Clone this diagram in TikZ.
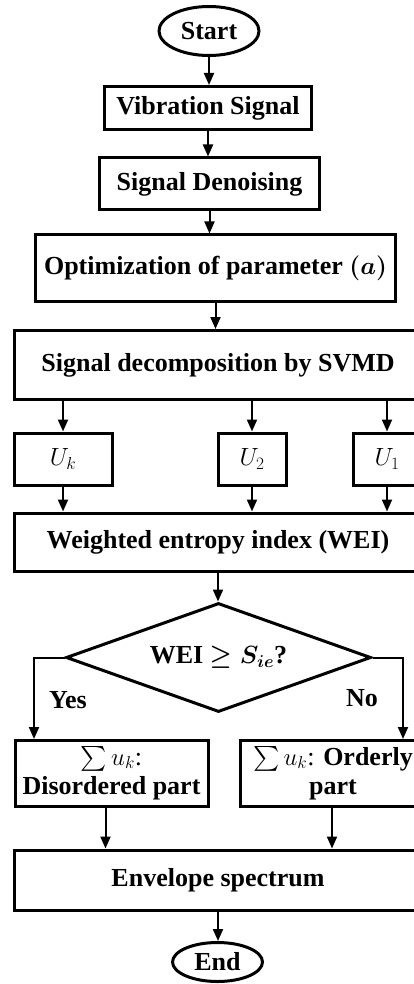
\documentclass[tikz,border=0pt]{standalone}
\usepackage{fontspec}
\setmainfont{Liberation Serif}
\usepackage{amsmath}
\usetikzlibrary{shapes}
\usetikzlibrary{arrows.meta}

\begin{document}
\begin{tikzpicture}[x=1pt, y=-1pt, every node/.style={font=\fontsize{26}{29}\selectfont\bfseries, inner sep=0pt}, b/.style={rectangle, draw, line width=3pt, minimum width=#1pt}, t/.style={ellipse, draw, line width=3pt, minimum width=#1pt}, arr/.style={-{Triangle[width=10pt,length=12pt]}, line width=2pt}]
            \path[use as bounding box] (0, 0) rectangle (414, 984);
            \clip (0, 0) rectangle (414, 984);

            \node[t={100}, minimum height=49pt] (start) at (209, 31) {Start};
            \node[b={207}, minimum height=43pt] (vib) at (208, 108) {Vibration Signal};
            \node[b={220}, minimum height=52pt] (den) at (209.5, 184) {Signal Denoising};
            \node[b={360}, minimum height=66pt] (opt) at (215.5, 268) {Optimization of parameter $\boldsymbol{(a)}$};
            \node[b={408}, minimum height=69pt] (svmd) at (218, 365) {Signal decomposition by SVMD};
            \node[b={98}, minimum height=52pt] (uk) at (63, 459) {$U_k$};
            \node[b={68}, minimum height=52pt] (u2) at (252, 459) {$U_2$};
            \node[b={68}, minimum height=52pt] (u1) at (387, 459) {$U_1$};
            \node[b={408}, minimum height=58pt] (wei) at (218, 542) {Weighted entropy index (WEI)};
            \node[diamond, draw, line width=3pt, aspect=2.75, minimum width=305pt, minimum height=109pt] (dec) at (218.5, 657.5) {WEI $\boldsymbol{\geq S_{ie}}$?};
            \node (yes) at (68, 700) {Yes};
            \node (no) at (362, 698) {No};
            \node[b={193}, minimum height=66pt, align=center] (dis) at (111.5, 773) {$\sum u_k$\textnormal{:}\\Disordered part};
            \node[b={186}, minimum height=66pt, align=center] (ord) at (333, 773) {$\sum u_k$\textnormal{:} Orderly\\part};
            \node[b={408}, minimum height=60pt] (env) at (218, 880) {Envelope spectrum};
            \node[t={90}, minimum height=39pt] (end) at (217.5, 962) {End};
            \coordinate (yesdrop) at (34, 739);
            \coordinate (nodrop) at (403, 739);

            \draw[arr] (start.south) -- (start.south |- vib.north);
            \draw[arr] (vib.south) -- (vib.south |- den.north);
            \draw[arr] (den.south) -- (den.south |- opt.north);
            \draw[arr] (opt.south) -- (opt.south |- svmd.north);
            \draw[arr] (svmd.south -| uk) -- (uk.north);
            \draw[arr] (svmd.south -| u2) -- (u2.north);
            \draw[arr] (svmd.south -| u1) -- (u1.north);
            \draw[arr] (uk.south) -- (uk.south |- wei.north);
            \draw[arr] (u2.south) -- (u2.south |- wei.north);
            \draw[arr] (u1.south) -- (u1.south |- wei.north);
            \draw[arr] (wei.south) -- (wei.south |- dec.north);
            \draw[arr] (dec.west) -| (yesdrop);
            \draw[arr] (dec.east) -| (nodrop);
            \draw[arr] ([xshift=-6pt]dis.south) -- ([xshift=-6pt]dis.south |- env.north);
            \draw[arr] ([xshift=-1pt]ord.south) -- ([xshift=-1pt]ord.south |- env.north);
            \draw[arr] (env.south) -- (env.south |- end.north);
        \end{tikzpicture}
\end{document}
